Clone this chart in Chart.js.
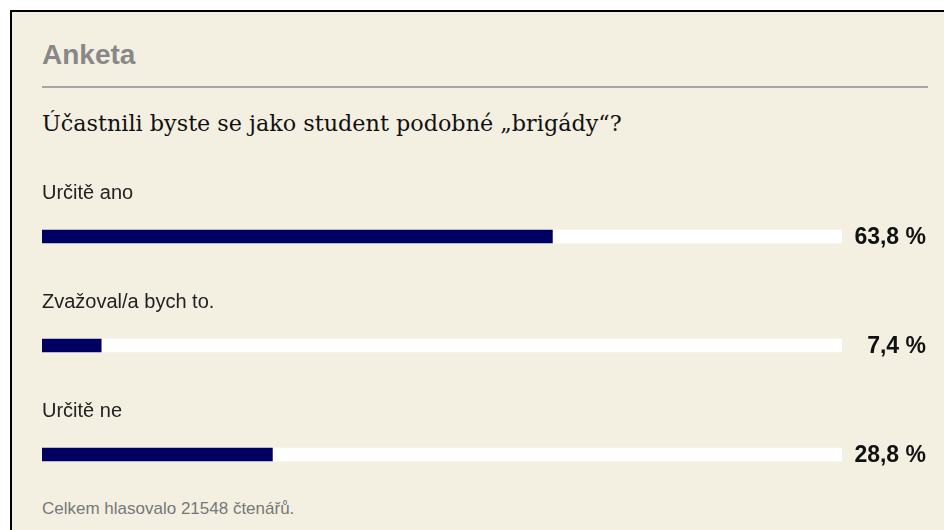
<!DOCTYPE html>
<html>
<head>
<meta charset="utf-8">
<script src="https://cdn.jsdelivr.net/npm/chart.js@4"></script>
<style>
  html, body { margin: 0; padding: 0; width: 944px; height: 530px; overflow: hidden; background: #fff; }
  .box { position: absolute; left: 10px; top: 10px; width: 1000px; height: 600px; background: #f3f0e2; border-left: 2px solid #000; border-top: 2px solid #000; }
  .t { position: absolute; white-space: nowrap; line-height: 1; }
  #title { left: 42px; top: 39px; font: bold 28px "Liberation Sans", Arial, sans-serif; color: #888; }
  #rule { position: absolute; left: 42px; top: 86px; width: 886px; height: 2px; background: #a6a6a6; }
  #question { left: 42px; top: 110px; font: 22.3px "DejaVu Serif", Georgia, serif; color: #111; }
  #footer { left: 42px; top: 499px; font: 17px "Liberation Sans", Arial, sans-serif; color: #777; }
  #myChart { position: absolute; left: 0; top: 0; }
</style>
</head>
<body>
<div class="box"></div>
<div class="t" id="title">Anketa</div>
<div id="rule"></div>
<div class="t" id="question">Účastnili byste se jako student podobné „brigády“?</div>
<div class="t" id="footer">Celkem hlasovalo 21548 čtenářů.</div>
<canvas id="myChart" width="944" height="530"></canvas>
<script>
const answers = ['Určitě ano', 'Zvažoval/a bych to.', 'Určitě ne'];
const percents = [63.8, 7.4, 28.8];
const full = [100, 100, 100];

const ctx = document.getElementById('myChart').getContext('2d');

// labels above each bar and the percentage on the right
const pollLabels = {
  id: 'pollLabels',
  afterDatasetsDraw(chart) {
    const c = chart.ctx;
    const bars = chart.getDatasetMeta(0).data;
    c.save();
    bars.forEach((bar, i) => {
      const top = bar.y - bar.height / 2;
      c.fillStyle = '#222';
      c.font = '20px "Liberation Sans", Arial, sans-serif';
      c.textAlign = 'left';
      c.textBaseline = 'alphabetic';
      c.fillText(answers[i], chart.chartArea.left, top - 31);

      c.fillStyle = '#111';
      c.font = 'bold 23px "Liberation Sans", Arial, sans-serif';
      c.textAlign = 'right';
      c.textBaseline = 'middle';
      c.fillText(percents[i].toFixed(1).replace('.', ',') + ' %', 926, bar.y + 1);
    });
    c.restore();
  }
};

new Chart(ctx, {
  type: 'bar',
  data: {
    labels: answers,
    datasets: [{
      data: percents,
      backgroundColor: '#000063',
      barThickness: 13,
      grouped: false
    }, {
      data: full,
      backgroundColor: '#ffffff',
      barThickness: 13,
      grouped: false
    }]
  },
  options: {
    indexAxis: 'y',
    responsive: false,
    animation: false,
    devicePixelRatio: 1,
    layout: { padding: { left: 42, right: 102, top: 182, bottom: 21 } },
    scales: {
      x: { display: false, min: 0, max: 100 },
      y: { display: false }
    },
    plugins: {
      legend: { display: false },
      tooltip: { enabled: false }
    }
  },
  plugins: [pollLabels]
});
</script>
</body>
</html>
